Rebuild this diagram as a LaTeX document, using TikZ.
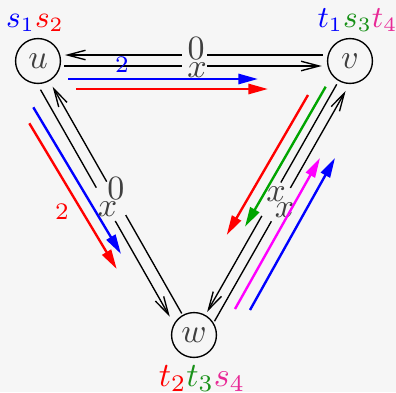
\documentclass[tikz,border=0pt]{standalone}
\usetikzlibrary{arrows.meta,calc}
\definecolor{bg}{RGB}{246,246,246}
\definecolor{lbl}{RGB}{64,64,64}
\definecolor{cgreenA}{RGB}{0,165,0}
\definecolor{cgreenT}{RGB}{25,145,25}
\definecolor{cpink}{RGB}{232,40,150}
\definecolor{cmag}{RGB}{255,0,255}
\tikzset{
  vtx/.style={circle,draw,line width=0.4pt,minimum size=13.2pt,inner sep=0pt,text=lbl},
  edg/.style={line width=0.4pt,-{Straight Barb[length=5.3pt,width=2.8pt]}},
  flow/.style={line width=0.7pt,-{Triangle[length=5.8pt,width=3pt]}},
  lab/.style={text=lbl,inner sep=0pt},
  small2/.style={font=\scriptsize,inner sep=0pt},
  gapmask/.style={fill=bg,draw=none,inner sep=0pt,rectangle},
}
\begin{document}
\begin{tikzpicture}[x=0.294pt,y=-0.294pt]
\fill[bg] (0,0) rectangle (396,392);
\useasboundingbox (0,0) rectangle (396,392);
% vertices
\node[vtx] (u) at (38,61) {$u$};
\node[vtx] (v) at (350,61) {$v$};
\node[vtx] (w) at (194,335) {$w$};
% top pair
\draw[edg,shorten <=8pt,shorten >=7.9pt] ($(v)!1.76pt!-90:(u)$) -- ($(u)!1.76pt!90:(v)$);
\draw[edg,shorten <=7.6pt,shorten >=8.3pt] ($(u)!1.47pt!-90:(v)$) -- ($(v)!1.47pt!90:(u)$);
% left pair
\draw[edg,shorten <=7.3pt,shorten >=8.7pt] (w.center) -- (u.center);
\draw[edg,shorten <=7.7pt,shorten >=8.2pt] ($(u)!3.53pt!-90:(w)$) -- ($(w)!3.53pt!90:(u)$);
% right pair
\draw[edg,shorten <=7.9pt,shorten >=7.8pt] (v.center) -- (w.center);
\draw[edg,shorten <=6.5pt,shorten >=8.3pt] ($(w)!3.23pt!-90:(v)$) -- ($(v)!3.23pt!90:(w)$);
% gaps in the edges
\node[gapmask,minimum width=7.4pt,minimum height=4.7pt] (m1) at (194.5,60.5) {};
\node[gapmask,rotate=-60.35,minimum width=11.2pt,minimum height=7pt] (m2) at (111,201.3) {};
\node[gapmask,rotate=60.35,minimum width=11.2pt,minimum height=6.5pt] (m3) at (276.1,201.9) {};
% edge labels
\node[lab] (l0t) at (196,48.5) {$0$};
\node[lab] (lxt) at (197,70) {$x$};
\node[lab] (l0l) at (116,189) {$0$};
\node[lab] (lxl) at (107.5,209.5) {$x$};
\node[lab] (lxr1) at (276,194) {$x$};
\node[lab] (lxr2) at (284.5,210) {$x$};
\node[small2,text=blue] (l2t) at (122,65) {$2$};
\node[small2,text=red] (l2l) at (62,212) {$2$};
% terminal labels
\node[inner sep=0pt,font=\small] (su) at (35,23) {$\color{blue}s_1\color{red}s_2$};
\node[inner sep=0pt,font=\small] (tv) at (357.5,20) {$\color{blue}t_1\color{cgreenT}s_3\color{cpink}t_4$};
\node[inner sep=0pt] (tw) at (202,378.5) {$\color{red}t_2\color{cgreenT}t_3\color{cpink}s_4$};
% flow arrows
\draw[flow,blue] (68,79) -- (258,79);
\draw[flow,red] (76,89) -- (268,89);
\draw[flow,blue] (33.3,107.3) -- (121,254);
\draw[flow,red] (29.3,123.3) -- (116.7,269);
\draw[flow,red] (308,95) -- (226.7,235);
\draw[flow,cgreenA] (325.7,86.7) -- (245,226.7);
\draw[flow,cmag] (235,309) -- (320,158);
\draw[flow,blue] (250,310) -- (335,158);
\end{tikzpicture}
\end{document}
